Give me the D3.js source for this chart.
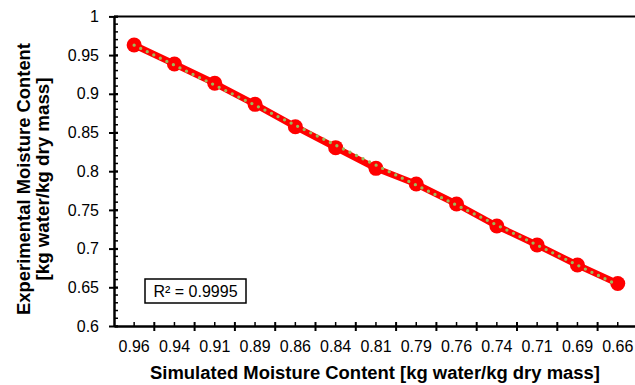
<!DOCTYPE html>
<html>
<head>
<meta charset="utf-8">
<script src="https://cdn.jsdelivr.net/npm/d3@7"></script>
<style>
  body { margin: 0; background: #fff; }
  svg { font-family: "Liberation Sans", Arial, sans-serif; }
</style>
</head>
<body>
<div id="chart"></div>
<script>
// Simulated moisture content categories (x) and experimental values (y)
const categories = ["0.96", "0.94", "0.91", "0.89", "0.86", "0.84", "0.81", "0.79", "0.76", "0.74", "0.71", "0.69", "0.66"];
const experimental = [0.963, 0.9385, 0.9136, 0.8864, 0.8575, 0.8304, 0.8037, 0.7835, 0.7576, 0.7292, 0.7047, 0.6788, 0.6549];
const yTicks = [0.6, 0.65, 0.7, 0.75, 0.8, 0.85, 0.9, 0.95, 1];
const rSquared = "R² = 0.9995";

const width = 635, height = 385;
const margin = { top: 16.4, left: 114, bottom: 59 };
const plotRight = 114 + 13 * 40.3;
const FONT = "Liberation Sans, Arial, sans-serif";

const svg = d3.select("#chart").append("svg")
  .attr("width", width)
  .attr("height", height);

const x = d3.scaleBand()
  .domain(categories)
  .range([margin.left, plotRight])
  .paddingInner(0)
  .paddingOuter(0);

const y = d3.scaleLinear()
  .domain([0.6, 1])
  .range([height - margin.bottom, margin.top]);

const y0 = y(0.6);

// top border of plot area
svg.append("line")
  .attr("x1", margin.left).attr("x2", plotRight)
  .attr("y1", y(1)).attr("y2", y(1))
  .attr("stroke", "#000").attr("stroke-width", 2);

// y axis minor ticks (inside)
const yMinor = d3.range(60, 101).map((d) => d / 100);
svg.append("g")
  .selectAll("line")
  .data(yMinor)
  .enter().append("line")
  .attr("x1", margin.left).attr("x2", margin.left + 4)
  .attr("y1", (d) => y(d)).attr("y2", (d) => y(d))
  .attr("stroke", "#000").attr("stroke-width", 1.5);

// y axis major ticks (cross) + labels
const yAxis = svg.append("g")
  .attr("transform", `translate(${margin.left},0)`)
  .call(d3.axisLeft(y).tickValues(yTicks).tickFormat((d) => d3.format("")(+d.toFixed(2))).tickSizeInner(5).tickSizeOuter(0).tickPadding(10));
yAxis.select(".domain").attr("stroke-width", 2.5);
yAxis.selectAll(".tick line").attr("x2", -5).attr("x1", 4).attr("stroke-width", 2);
yAxis.selectAll("text").attr("font-size", 16).attr("fill", "#000").attr("font-family", FONT);

// x axis
const xAxis = svg.append("g")
  .attr("transform", `translate(0,${y0})`)
  .call(d3.axisBottom(x).tickSizeInner(0).tickSizeOuter(0).tickPadding(15));
xAxis.select(".domain").attr("stroke-width", 2.5);
xAxis.selectAll(".tick line").remove();
xAxis.selectAll("text").attr("font-size", 16).attr("fill", "#000").attr("font-family", FONT);

// x minor ticks at category centres (inside)
svg.append("g")
  .selectAll("line")
  .data(categories)
  .enter().append("line")
  .attr("x1", (d) => x(d) + x.bandwidth() / 2).attr("x2", (d) => x(d) + x.bandwidth() / 2)
  .attr("y1", y0).attr("y2", y0 - 4)
  .attr("stroke", "#000").attr("stroke-width", 1.5);

// x major ticks at category boundaries (cross)
svg.append("g")
  .selectAll("line")
  .data(categories.slice(1))
  .enter().append("line")
  .attr("x1", (d) => x(d)).attr("x2", (d) => x(d))
  .attr("y1", y0 - 4).attr("y2", y0 + 5)
  .attr("stroke", "#000").attr("stroke-width", 2);

// data series
const cx = (i) => x(categories[i]) + x.bandwidth() / 2;
const line = d3.line()
  .x((d, i) => cx(i))
  .y((d) => y(d));

svg.append("path")
  .datum(experimental)
  .attr("d", line)
  .attr("fill", "none")
  .attr("stroke", "#ff0000")
  .attr("stroke-width", 6.5)
  .attr("stroke-linejoin", "round");

svg.append("g")
  .selectAll("circle")
  .data(experimental)
  .enter().append("circle")
  .attr("cx", (d, i) => cx(i))
  .attr("cy", (d) => y(d))
  .attr("r", 7.5)
  .attr("fill", "#ff0000");

// linear trendline (category index as x, like a spreadsheet line chart)
const n = experimental.length;
const xs = d3.range(1, n + 1);
const mx = d3.mean(xs), my = d3.mean(experimental);
const slope = d3.sum(xs, (v, i) => (v - mx) * (experimental[i] - my)) / d3.sum(xs, (v) => (v - mx) ** 2);
const intercept = my - slope * mx;
const trend = [1, n].map((k) => ({ k, v: intercept + slope * k }));

svg.append("path")
  .datum(trend)
  .attr("d", d3.line().x((d) => cx(d.k - 1)).y((d) => y(d.v)))
  .attr("fill", "none")
  .attr("stroke", "#9bbb59")
  .attr("stroke-width", 3.3)
  .attr("stroke-linecap", "round")
  .attr("stroke-dasharray", "0,7.3");

// R² box
const box = svg.append("g").attr("transform", "translate(145,279)");
box.append("rect")
  .attr("width", 101).attr("height", 24)
  .attr("fill", "#fff").attr("stroke", "#000").attr("stroke-width", 1.5);
box.append("text")
  .attr("x", 50.5).attr("y", 18)
  .attr("text-anchor", "middle")
  .attr("font-size", 16)
  .text(rSquared);

// axis titles
svg.append("text")
  .attr("x", 375).attr("y", 379)
  .attr("text-anchor", "middle")
  .attr("font-size", 17.5)
  .attr("font-weight", "bold")
  .attr("textLength", 450)
  .attr("lengthAdjust", "spacingAndGlyphs")
  .text("Simulated Moisture Content [kg water/kg dry mass]");

const yTitle = svg.append("text")
  .attr("transform", `translate(0,179) rotate(-90)`)
  .attr("text-anchor", "middle")
  .attr("font-size", 17.5)
  .attr("font-weight", "bold");
yTitle.append("tspan").attr("x", 0).attr("y", 30)
  .attr("textLength", 272).attr("lengthAdjust", "spacingAndGlyphs")
  .text("Experimental Moisture Content");
yTitle.append("tspan").attr("x", 0).attr("y", 49)
  .attr("textLength", 203).attr("lengthAdjust", "spacingAndGlyphs")
  .text("[kg water/kg dry mass]");
</script>
</body>
</html>
